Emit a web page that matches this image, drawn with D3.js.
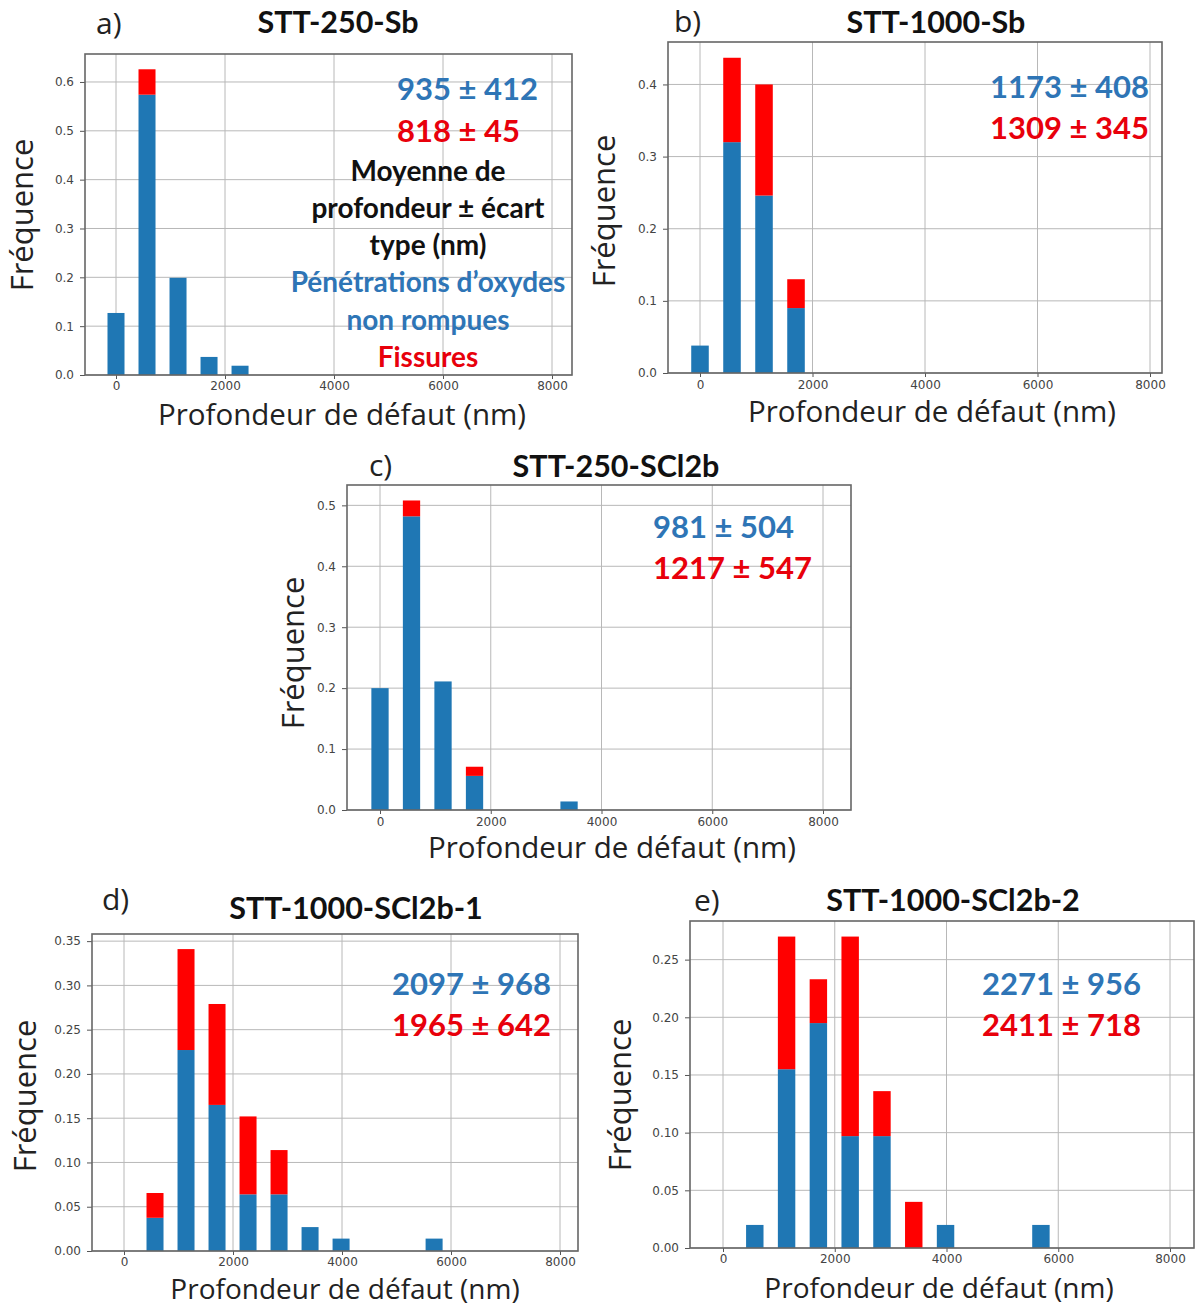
<!DOCTYPE html>
<html><head><meta charset="utf-8">
<script src="https://cdn.jsdelivr.net/npm/d3@7"></script>
<style>
body{margin:0;background:#fff;}
svg{display:block;}
</style></head>
<body>
<svg id="chart" width="1196" height="1307"></svg>
<script>
// ---- Data ----
const binCenters = [0, 569, 1138, 1707, 2276, 2845, 3414, 3983, 4552, 5121, 5690];
const xTicks = [0, 2000, 4000, 6000, 8000];

const titleA = "STT-250-Sb";
const blueA = [0.127, 0.574, 0.199, 0.037, 0.019];
const redA  = [0, 0.052, 0, 0, 0];
const yTicksA = [0, 0.1, 0.2, 0.3, 0.4, 0.5, 0.6];
const statsA = ["935 ± 412", "818 ± 45"];

const titleB = "STT-1000-Sb";
const blueB = [0.038, 0.320, 0.246, 0.090];
const redB  = [0, 0.117, 0.154, 0.040];
const yTicksB = [0, 0.1, 0.2, 0.3, 0.4];
const statsB = ["1173 ± 408", "1309 ± 345"];

const titleC = "STT-250-SCl2b";
const blueC = [0.200, 0.482, 0.211, 0.056, 0, 0, 0.014];
const redC  = [0, 0.026, 0, 0.015, 0, 0, 0];
const yTicksC = [0, 0.1, 0.2, 0.3, 0.4, 0.5];
const statsC = ["981 ± 504", "1217 ± 547"];

const titleD = "STT-1000-SCl2b-1";
const blueD = [0, 0.0375, 0.227, 0.165, 0.064, 0.064, 0.027, 0.014, 0, 0, 0.014];
const redD  = [0, 0.028, 0.114, 0.114, 0.088, 0.050, 0, 0, 0, 0, 0];
const yTicksD = [0, 0.05, 0.10, 0.15, 0.20, 0.25, 0.30, 0.35];
const statsD = ["2097 ± 968", "1965 ± 642"];

const titleE = "STT-1000-SCl2b-2";
const blueE = [0, 0.020, 0.155, 0.195, 0.097, 0.097, 0, 0.020, 0, 0, 0.020];
const redE  = [0, 0, 0.115, 0.038, 0.173, 0.039, 0.040, 0, 0, 0, 0];
const yTicksE = [0, 0.05, 0.10, 0.15, 0.20, 0.25];
const statsE = ["2271 ± 956", "2411 ± 718"];

const legendLines = ["Moyenne de", "profondeur ± écart", "type (nm)"];
const legendBlue = ["Pénétrations d’oxydes", "non rompues"];
const legendRed = "Fissures";
const xLabel = "Profondeur de défaut (nm)";
const yLabel = "Fréquence";

// ---- Layout ----
const BLUE = "#1f77b4", RED = "#ff0000", TBLUE = "#2e75b6", TRED = "#e8000b";
const panels = [
  {tag:"a)", title:titleA, blue:blueA, red:redA, yt:yTicksA, fmt:".1f", stats:statsA,
   box:{l:85,r:572,t:54,b:375}, px:[116,552], pad:2, xfs:29.5,
   tag_:[96,34], ttl:[338,33], st:[397,100,142], xl:[342,425], yl:[33,215]},
  {tag:"b)", title:titleB, blue:blueB, red:redB, yt:yTicksB, fmt:".1f", stats:statsB,
   box:{l:668,r:1162,t:42,b:373}, px:[700,1150], pad:3, xfs:29.5,
   tag_:[674,32], ttl:[936,33], st:[990,98,139], xl:[932,422], yl:[615,211]},
  {tag:"c)", title:titleC, blue:blueC, red:redC, yt:yTicksC, fmt:".1f", stats:statsC,
   box:{l:347,r:851,t:485,b:810}, px:[380,823], pad:3, xfs:29.5,
   tag_:[369,476], ttl:[616,477], st:[653,538,579], xl:[612,858], yl:[304,653]},
  {tag:"d)", title:titleD, blue:blueD, red:redD, yt:yTicksD, fmt:".2f", stats:statsD,
   box:{l:92,r:578,t:934,b:1251}, px:[124,560], pad:2, xfs:28,
   tag_:[102,910], ttl:[356,919], st:[392,995,1036], xl:[345,1299], yl:[36,1096]},
  {tag:"e)", title:titleE, blue:blueE, red:redE, yt:yTicksE, fmt:".2f", stats:statsE,
   box:{l:690,r:1194,t:921,b:1248}, px:[723,1170], pad:2, xfs:28,
   tag_:[694,911], ttl:[953,911], st:[982,995,1036], xl:[939,1298], yl:[631,1095]}
];

const svg = d3.select("#chart");
const binWidth = 312;

panels.forEach(p => {
  const g = svg.append("g");
  const B = p.box;
  const totals = p.blue.map((v,i)=> v + p.red[i]);
  const ymax = d3.max(totals) * 1.05;
  const x = d3.scaleLinear().domain([0, 8000]).range(p.px);
  const y = d3.scaleLinear().domain([0, ymax]).range([B.b, B.t]);

  // grid
  g.append("g").selectAll("line").data(xTicks).join("line")
    .attr("x1", d=>x(d)).attr("x2", d=>x(d)).attr("y1", B.t).attr("y2", B.b)
    .attr("stroke","#b8b8b8").attr("stroke-width",1);
  g.append("g").selectAll("line").data(p.yt).join("line")
    .attr("x1", B.l).attr("x2", B.r).attr("y1", d=>y(d)).attr("y2", d=>y(d))
    .attr("stroke","#b8b8b8").attr("stroke-width",1);

  // bars
  const data = p.blue.map((v,i)=>({c:binCenters[i], b:v, r:p.red[i]}));
  const w = x(binWidth) - x(0);
  g.append("g").selectAll("rect").data(data.filter(d=>d.b>0)).join("rect")
    .attr("x", d=>x(d.c)-w/2).attr("width", w)
    .attr("y", d=>y(d.b)).attr("height", d=>y(0)-y(d.b)).attr("fill", BLUE);
  g.append("g").selectAll("rect").data(data.filter(d=>d.r>0)).join("rect")
    .attr("x", d=>x(d.c)-w/2).attr("width", w)
    .attr("y", d=>y(d.b+d.r)).attr("height", d=>y(d.b)-y(d.b+d.r)).attr("fill", RED);

  // axes
  const xa = d3.axisBottom(x).tickValues(xTicks).tickSize(4).tickPadding(p.pad).tickFormat(d3.format("d"));
  const ya = d3.axisLeft(y).tickValues(p.yt).tickSize(5).tickPadding(6).tickFormat(d3.format(p.fmt));
  const gx = g.append("g").attr("transform",`translate(0,${B.b})`).call(xa);
  const gy = g.append("g").attr("transform",`translate(${B.l},0)`).call(ya);
  [gx,gy].forEach(a=>{
    a.select(".domain").remove();
    a.selectAll("text").attr("font-family","DejaVu Sans").attr("font-size",12).attr("fill","#444");
    a.selectAll("line").attr("stroke","#555");
  });

  // frame
  g.append("rect").attr("x",B.l).attr("y",B.t).attr("width",B.r-B.l).attr("height",B.b-B.t)
    .attr("fill","none").attr("stroke","#666").attr("stroke-width",1.6);

  // labels
  g.append("text").attr("x",p.xl[0]).attr("y",p.xl[1]).attr("text-anchor","middle")
    .attr("font-family","Open Sans").attr("font-size",p.xfs).attr("fill","#222").text(xLabel);
  g.append("text").attr("transform",`translate(${p.yl[0]},${p.yl[1]}) rotate(-90)`)
    .attr("text-anchor","middle").attr("font-family","Open Sans").attr("font-size",31)
    .attr("fill","#222").text(yLabel);
  g.append("text").attr("x",p.tag_[0]).attr("y",p.tag_[1]).attr("font-family","Open Sans")
    .attr("font-size",30).attr("fill","#222").text(p.tag);
  g.append("text").attr("x",p.ttl[0]).attr("y",p.ttl[1]).attr("text-anchor","middle")
    .attr("font-family","Lato").attr("font-weight","bold").attr("font-size",30.5)
    .attr("fill","#111").text(p.title);
  g.append("text").attr("x",p.st[0]).attr("y",p.st[1])
    .attr("font-family","Lato").attr("font-weight","bold").attr("font-size",31)
    .attr("fill",TBLUE).text(p.stats[0]);
  g.append("text").attr("x",p.st[0]).attr("y",p.st[2])
    .attr("font-family","Lato").attr("font-weight","bold").attr("font-size",31)
    .attr("fill",TRED).text(p.stats[1]);
});

// legend text in panel a
const lg = svg.append("g").attr("font-family","Lato").attr("font-weight","bold")
  .attr("font-size",28).attr("text-anchor","middle");
legendLines.forEach((t,i)=> lg.append("text").attr("x",428).attr("y",181+i*37).attr("fill","#111").text(t));
legendBlue.forEach((t,i)=> lg.append("text").attr("x",428).attr("y",292+i*38).attr("fill",TBLUE).text(t));
lg.append("text").attr("x",428).attr("y",367).attr("fill",TRED).text(legendRed);
</script>
</body></html>
